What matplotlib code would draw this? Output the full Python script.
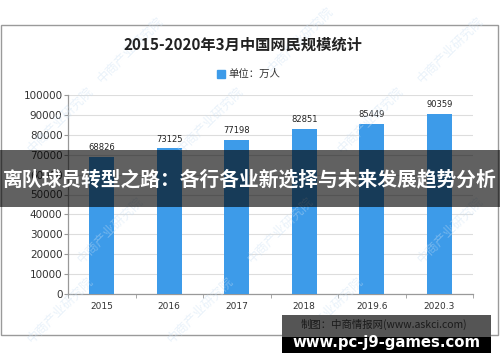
import matplotlib
matplotlib.use("Agg")
import matplotlib.pyplot as plt
from matplotlib.patches import Rectangle

plt.rcParams['font.family'] = ['Noto Sans CJK SC', 'DejaVu Sans']

categories = ['2015', '2016', '2017', '2018', '2019.6', '2020.3']
values = [68826, 73125, 77198, 82851, 85449, 90359]
yticks = [0, 10000, 20000, 30000, 40000, 50000, 60000, 70000, 80000, 90000, 100000]
title = '2015-2020年3月中国网民规模统计'
legend_label = '单位：万人'
banner = '离队球员转型之路：各行各业新选择与未来发展趋势分析'
source = '制图：中商情报网(www.askci.com)'
site = 'www.pc-j9-games.com'

W, H = 500, 362
fig = plt.figure(figsize=(W / 100, H / 100), dpi=100)
fig.patch.set_facecolor('white')

def fx(x):
    return x / W

def fy(y):
    return 1 - y / H

# outer border
fig.patches.append(Rectangle((fx(1), fy(335)), fx(498) - fx(1), fy(25) - fy(335),
                             transform=fig.transFigure, fill=False,
                             edgecolor='#9a9a9a', linewidth=1.0, zorder=0))

# watermarks
wm_pos = [(130, 50), (300, 40), (450, 50), (60, 120), (210, 120), (370, 120),
          (110, 230), (280, 230), (450, 230), (60, 310), (200, 310), (330, 310)]
for (x, y) in wm_pos:
    fig.text(fx(x), fy(y), '中商产业研究院', rotation=45, fontsize=9,
             color='#c9dff3', alpha=0.4, ha='center', va='center', zorder=1)

ax = fig.add_axes([fx(68), fy(294), fx(473) - fx(68), fy(95) - fy(294)])
ax.set_facecolor('none')
x = list(range(len(categories)))
bars = ax.bar(x, values, width=0.37, color='#3d9be9', zorder=3)
for xi, v in zip(x, values):
    ax.text(xi, v + 2500, str(v), ha='center', va='bottom', fontsize=6,
            color='#222222', family='DejaVu Sans', zorder=4)

ax.set_xlim(-0.5, len(categories) - 0.5)
ax.set_ylim(0, 100000)
ax.set_yticks(yticks)
ax.set_yticklabels([str(t) for t in yticks], fontsize=7.5, color='#333333', family='DejaVu Sans')
ax.set_xticks(x)
ax.set_xticklabels(categories, fontsize=6.5, color='#333333', family='DejaVu Sans')
ax.tick_params(axis='x', length=0, pad=6)
ax.set_xticks([i - 0.5 for i in range(len(categories) + 1)], minor=True)
ax.tick_params(axis='x', which='minor', length=3, color='#999999')
ax.tick_params(axis='y', length=3, color='#999999', pad=1)
ax.grid(axis='y', color='#dddddd', linewidth=0.8, zorder=0)
for s in ['top', 'right']:
    ax.spines[s].set_visible(False)
for s in ['left', 'bottom']:
    ax.spines[s].set_color('#999999')
    ax.spines[s].set_linewidth(0.9)

# title
fig.text(fx(243), fy(45), title, ha='center', va='center', fontsize=11,
         fontweight='bold', color='#222222')
# legend
fig.patches.append(Rectangle((fx(217), fy(77.5)), fx(8), fy(0) - fy(8),
                             transform=fig.transFigure, color='#3d9be9'))
fig.text(fx(228), fy(74), legend_label, ha='left', va='center', fontsize=7.5, color='#333333')

# dark banner
fig.patches.append(Rectangle((0, fy(207)), 1, fy(150) - fy(207), transform=fig.transFigure,
                             facecolor='black', alpha=0.62, zorder=10))
fig.text(0.5, fy(180), banner, ha='center', va='center', fontsize=14.2,
         fontweight='bold', color='white', zorder=11)

# bottom box
fig.patches.append(Rectangle((fx(282), fy(337)), fx(491) - fx(282), fy(315) - fy(337),
                             transform=fig.transFigure, facecolor='#555555', zorder=10))
fig.patches.append(Rectangle((fx(282), fy(353)), fx(491) - fx(282), fy(337) - fy(353),
                             transform=fig.transFigure, facecolor='black', zorder=10))
fig.text(fx(384), fy(324), source, ha='center', va='center', fontsize=7.5,
         color='#1a1a1a', zorder=11)
fig.text(fx(386), fy(343), site, ha='center', va='center', fontsize=10.7,
         fontweight='bold', color='white', family='DejaVu Sans', zorder=11)

fig.savefig('out.png', dpi=100)
